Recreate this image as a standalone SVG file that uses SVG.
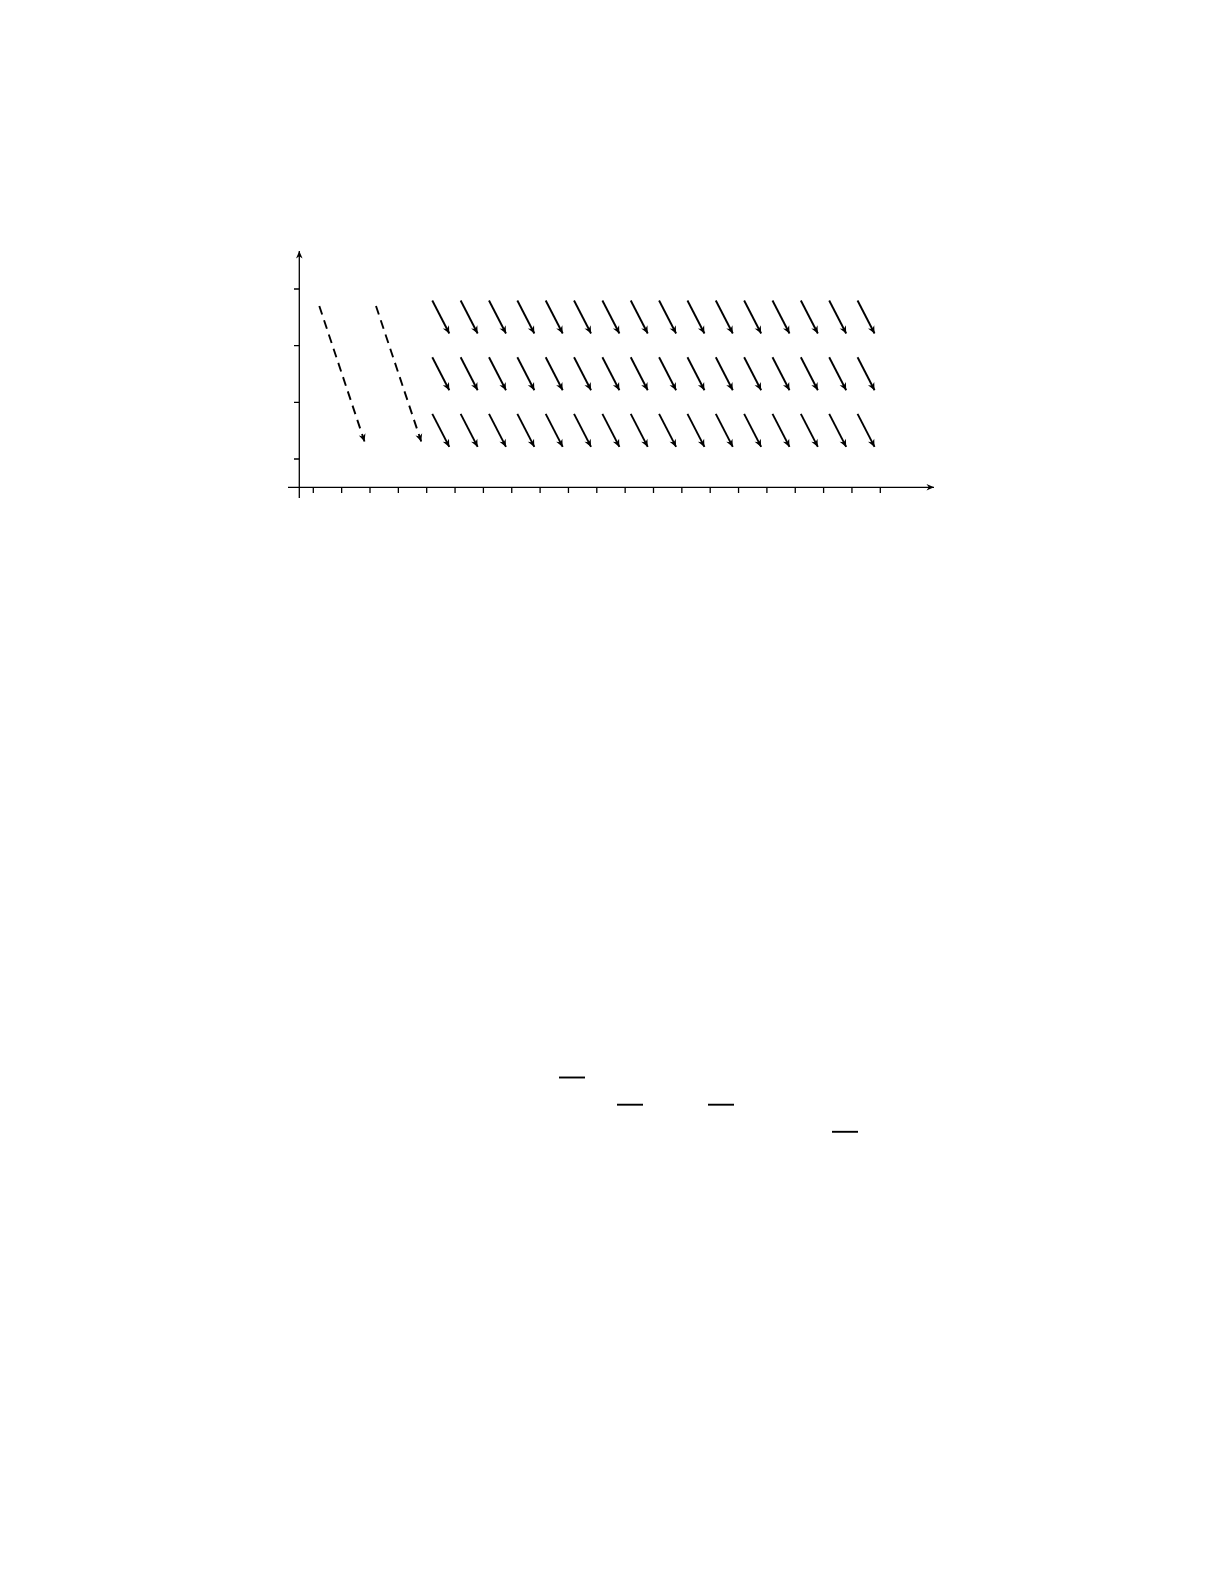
<svg xmlns="http://www.w3.org/2000/svg" xmlns:xlink="http://www.w3.org/1999/xlink" width="1225" height="1585" viewBox="0 0 1225 1585">
<style>
.axis{stroke:#000;stroke-width:1.3;fill:none}
.tick{stroke:#000;stroke-width:1.3;fill:none}
.vec{stroke:#000;stroke-width:1.9;fill:none;marker-end:url(#ah)}
.dash{stroke:#000;stroke-width:1.9;fill:none;stroke-dasharray:9 6;marker-end:url(#ah)}
.bar{stroke:#000;stroke-width:1.9}
</style>
<defs>
<marker id="ah" markerUnits="userSpaceOnUse" markerWidth="12" markerHeight="12" refX="0" refY="0" viewBox="-9 -6 12 12" orient="auto">
<path d="M0,0 L-7.5,-3.5 L-5.2,0 L-7.5,3.5 Z" fill="#000"/>
</marker>
<marker id="axh" markerUnits="userSpaceOnUse" markerWidth="12" markerHeight="12" refX="0" refY="0" viewBox="-9 -6 12 12" orient="auto">
<path d="M0,0 L-7.5,-3.3 L-5.2,0 L-7.5,3.3 Z" fill="#000"/>
</marker>
<line id="v" class="vec" x1="0" y1="0" x2="17" y2="33"/>
</defs>
<rect width="1225" height="1585" fill="#fff"/>
<g id="axes">
<line class="axis" x1="288" y1="487.3" x2="934" y2="487.3" marker-end="url(#axh)"/>
<line class="axis" x1="299.3" y1="498" x2="299.3" y2="251" marker-end="url(#axh)"/>
<path class="tick" d="M294,289H299.3M294,345.7H299.3M294,402.3H299.3M294,459H299.3"/>
<path class="tick" d="M313.3,487.3V493M341.65,487.3V493M370,487.3V493M398.35,487.3V493M426.7,487.3V493M455.05,487.3V493M483.4,487.3V493M511.75,487.3V493M540.1,487.3V493M568.45,487.3V493M596.8,487.3V493M625.15,487.3V493M653.5,487.3V493M681.85,487.3V493M710.2,487.3V493M738.55,487.3V493M766.9,487.3V493M795.25,487.3V493M823.6,487.3V493M851.95,487.3V493M880.3,487.3V493"/>
</g>
<g id="connectors">
<line class="dash" x1="319.3" y1="306" x2="364.5" y2="441.5"/>
<line class="dash" x1="376" y1="306" x2="421.2" y2="441.5"/>
<g id="row1">
<use href="#v" xlink:href="#v" x="432.3" y="300.5"/>
<use href="#v" xlink:href="#v" x="460.65" y="300.5"/>
<use href="#v" xlink:href="#v" x="489" y="300.5"/>
<use href="#v" xlink:href="#v" x="517.35" y="300.5"/>
<use href="#v" xlink:href="#v" x="545.7" y="300.5"/>
<use href="#v" xlink:href="#v" x="574.05" y="300.5"/>
<use href="#v" xlink:href="#v" x="602.4" y="300.5"/>
<use href="#v" xlink:href="#v" x="630.75" y="300.5"/>
<use href="#v" xlink:href="#v" x="659.1" y="300.5"/>
<use href="#v" xlink:href="#v" x="687.45" y="300.5"/>
<use href="#v" xlink:href="#v" x="715.8" y="300.5"/>
<use href="#v" xlink:href="#v" x="744.15" y="300.5"/>
<use href="#v" xlink:href="#v" x="772.5" y="300.5"/>
<use href="#v" xlink:href="#v" x="800.85" y="300.5"/>
<use href="#v" xlink:href="#v" x="829.2" y="300.5"/>
<use href="#v" xlink:href="#v" x="857.55" y="300.5"/>
</g>
<g id="row2">
<use href="#v" xlink:href="#v" x="432.3" y="357.2"/>
<use href="#v" xlink:href="#v" x="460.65" y="357.2"/>
<use href="#v" xlink:href="#v" x="489" y="357.2"/>
<use href="#v" xlink:href="#v" x="517.35" y="357.2"/>
<use href="#v" xlink:href="#v" x="545.7" y="357.2"/>
<use href="#v" xlink:href="#v" x="574.05" y="357.2"/>
<use href="#v" xlink:href="#v" x="602.4" y="357.2"/>
<use href="#v" xlink:href="#v" x="630.75" y="357.2"/>
<use href="#v" xlink:href="#v" x="659.1" y="357.2"/>
<use href="#v" xlink:href="#v" x="687.45" y="357.2"/>
<use href="#v" xlink:href="#v" x="715.8" y="357.2"/>
<use href="#v" xlink:href="#v" x="744.15" y="357.2"/>
<use href="#v" xlink:href="#v" x="772.5" y="357.2"/>
<use href="#v" xlink:href="#v" x="800.85" y="357.2"/>
<use href="#v" xlink:href="#v" x="829.2" y="357.2"/>
<use href="#v" xlink:href="#v" x="857.55" y="357.2"/>
</g>
<g id="row3">
<use href="#v" xlink:href="#v" x="432.3" y="413.9"/>
<use href="#v" xlink:href="#v" x="460.65" y="413.9"/>
<use href="#v" xlink:href="#v" x="489" y="413.9"/>
<use href="#v" xlink:href="#v" x="517.35" y="413.9"/>
<use href="#v" xlink:href="#v" x="545.7" y="413.9"/>
<use href="#v" xlink:href="#v" x="574.05" y="413.9"/>
<use href="#v" xlink:href="#v" x="602.4" y="413.9"/>
<use href="#v" xlink:href="#v" x="630.75" y="413.9"/>
<use href="#v" xlink:href="#v" x="659.1" y="413.9"/>
<use href="#v" xlink:href="#v" x="687.45" y="413.9"/>
<use href="#v" xlink:href="#v" x="715.8" y="413.9"/>
<use href="#v" xlink:href="#v" x="744.15" y="413.9"/>
<use href="#v" xlink:href="#v" x="772.5" y="413.9"/>
<use href="#v" xlink:href="#v" x="800.85" y="413.9"/>
<use href="#v" xlink:href="#v" x="829.2" y="413.9"/>
<use href="#v" xlink:href="#v" x="857.55" y="413.9"/>
</g>
</g>
<g id="bars">
<line class="bar" x1="559" y1="1077.5" x2="585" y2="1077.5"/>
<line class="bar" x1="617" y1="1104.7" x2="643" y2="1104.7"/>
<line class="bar" x1="708" y1="1104.7" x2="734" y2="1104.7"/>
<line class="bar" x1="832" y1="1131.8" x2="858" y2="1131.8"/>
</g>
</svg>
